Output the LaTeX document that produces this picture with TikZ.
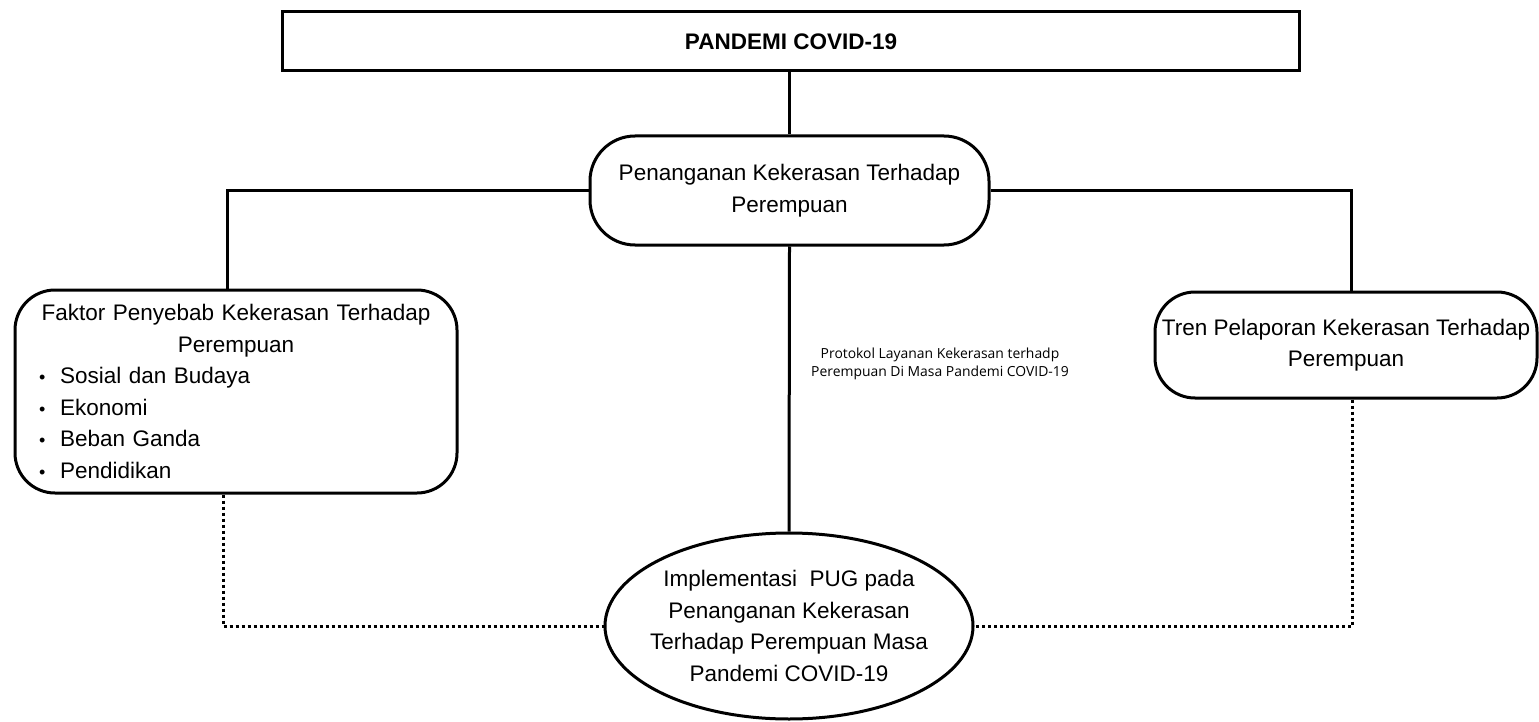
\documentclass[tikz,border=0pt]{standalone}
\usepackage{fontspec}
\setmainfont{Liberation Sans}
\newfontfamily\osans{Open Sans}
\usetikzlibrary{shapes.geometric}
\begin{document}
\begin{tikzpicture}[x=1pt,y=-1pt,
  every node/.style={font=\fontsize{22.5}{31.5}\selectfont},
  titlebox/.style={draw,line width=3pt,rectangle,minimum width=1017pt,minimum height=59pt,inner sep=0pt,font=\fontsize{22.5}{26}\selectfont\bfseries},
  roundbox/.style={draw,line width=3pt,rectangle,align=center,inner sep=0pt},
  ovalbox/.style={draw,line width=3pt,ellipse,align=center,inner xsep=-14pt,inner ysep=0pt},
  link/.style={line width=3pt},
  dotlink/.style={line width=3pt,dash pattern=on 3pt off 3pt},
  smalllabel/.style={font=\osans\fontsize{13.9}{18}\selectfont,align=center,inner sep=0pt}
]
\useasboundingbox[fill=white] (0,0) rectangle (1539,722);

\node[titlebox] (top) at (791,41.5) {PANDEMI COVID-19};

\node[roundbox,rounded corners=45pt,minimum width=399pt,minimum height=109pt] (pen) at (789.5,190.5)
  {Penanganan Kekerasan Terhadap\\Perempuan};

\node[roundbox,rounded corners=40pt,minimum width=442pt,minimum height=203pt,text width=394pt,align=left,inner xsep=24pt] (fak) at (236,391.5)
  {\centering Faktor Penyebab Kekerasan Terhadap\\Perempuan\par
   \raggedright
   \makebox[21pt][l]{\fontsize{18}{18}\selectfont •}Sosial dan Budaya\\
   \makebox[21pt][l]{\fontsize{18}{18}\selectfont •}Ekonomi\\
   \makebox[21pt][l]{\fontsize{18}{18}\selectfont •}Beban Ganda\\
   \makebox[21pt][l]{\fontsize{18}{18}\selectfont •}Pendidikan};

\node[roundbox,rounded corners=40pt,minimum width=382pt,minimum height=106pt] (tren) at (1346,345)
  {Tren Pelaporan Kekerasan Terhadap\\Perempuan};

\node[ovalbox,minimum width=368pt,minimum height=186pt] (ell) at (789,626)
  {Implementasi~ PUG pada\\Penanganan Kekerasan\\Terhadap Perempuan Masa\\Pandemi COVID-19};

\node[smalllabel] (proto) at (940,364)
  {Protokol Layanan Kekerasan terhadp\\Perempuan Di Masa Pandemi COVID-19};

\draw[link] (top.south -| pen.north) -- (pen.north);
\draw[link] (pen.west) -| ([xshift=-9pt]fak.north);
\draw[link] (pen.east) -| ([xshift=5pt]tren.north);
\draw[link] (pen.south) -- (ell.north);
\draw[dotlink] ([xshift=-13pt]fak.south) |- (ell.west);
\draw[dotlink] ([xshift=6pt]tren.south) |- (ell.east);
\end{tikzpicture}
\end{document}
